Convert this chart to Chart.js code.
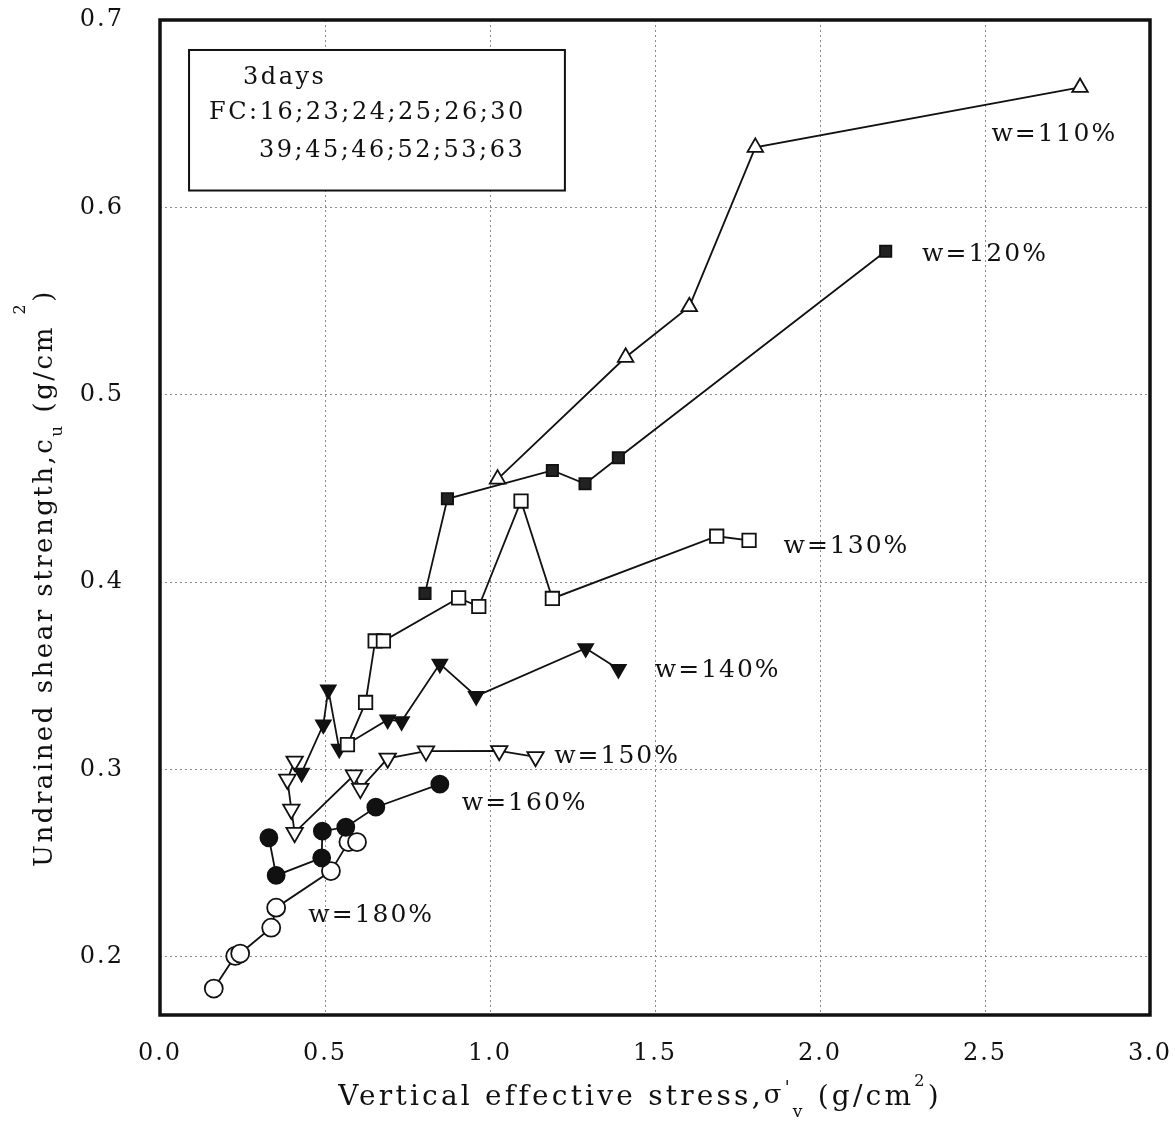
<!DOCTYPE html>
<html>
<head>
<meta charset="utf-8">
<script src="https://cdn.jsdelivr.net/npm/chart.js@4.4.0/dist/chart.umd.min.js"></script>
<style>
  html, body { margin: 0; padding: 0; background: #fff; }
</style>
</head>
<body>
<canvas id="chart" width="1175" height="1129"></canvas>
<script>
// values: vertical effective stress (x) vs undrained shear strength (y)
const w110x = [1.023, 1.411, 1.604, 1.804, 2.788];
const w110y = [0.455, 0.520, 0.547, 0.632, 0.664];

const w120x = [0.803, 0.871, 1.189, 1.288, 1.389, 2.199];
const w120y = [0.394, 0.4445, 0.4596, 0.4525, 0.4664, 0.5766];

const w130x = [0.568, 0.623, 0.652, 0.677, 0.905, 0.966, 1.094, 1.189, 1.687, 1.785];
const w130y = [0.3133, 0.3358, 0.3686, 0.3686, 0.3916, 0.387, 0.4433, 0.3913, 0.4245, 0.4223];

const w140x = [0.429, 0.495, 0.510, 0.543, 0.690, 0.732, 0.848, 0.958, 1.290, 1.389];
const w140y = [0.2982, 0.324, 0.3426, 0.311, 0.3266, 0.3257, 0.3564, 0.3392, 0.3647, 0.3536];

const w150x = [0.408, 0.386, 0.398, 0.408, 0.588, 0.607, 0.690, 0.806, 1.028, 1.138];
const w150y = [0.3044, 0.2947, 0.2787, 0.2663, 0.297, 0.2898, 0.306, 0.3098, 0.310, 0.3068];

const w160x = [0.330, 0.352, 0.490, 0.492, 0.563, 0.654, 0.848];
const w160y = [0.2636, 0.2435, 0.2529, 0.2671, 0.2692, 0.2799, 0.2922];

const w180x = [0.163, 0.228, 0.243, 0.337, 0.352, 0.518, 0.571, 0.597];
const w180y = [0.1831, 0.2005, 0.2018, 0.2156, 0.2263, 0.2458, 0.2613, 0.2613];

const seriesNames = ['w=110%', 'w=120%', 'w=130%', 'w=140%', 'w=150%', 'w=160%', 'w=180%'];
// where each series label sits, in data units
const labelX = [2.71, 2.50, 2.08, 1.69, 1.385, 1.105, 0.64];
const labelY = [0.639, 0.575, 0.419, 0.353, 0.307, 0.282, 0.222];

const xTicks = [0.0, 0.5, 1.0, 1.5, 2.0, 2.5, 3.0];
const yTicks = [0.2, 0.3, 0.4, 0.5, 0.6, 0.7];

const noteLines = ['3days', 'FC:16;23;24;25;26;30', '39;45;46;52;53;63'];

const FONT = '"DejaVu Serif", "Liberation Serif", serif';

function pts(xs, ys) {
  return xs.map((x, i) => ({ x: x, y: ys[i] }));
}

// marker look for each series
const styles = [
  { shape: 'triangle', rot: 0, fill: '#fff', r: 9 },
  { shape: 'rect', rot: 0, fill: '#222', r: 8 },
  { shape: 'rect', rot: 0, fill: '#fff', r: 9.5 },
  { shape: 'triangle', rot: 180, fill: '#111', r: 8.5 },
  { shape: 'triangle', rot: 180, fill: '#fff', r: 9.5 },
  { shape: 'circle', rot: 0, fill: '#111', r: 8.5 },
  { shape: 'circle', rot: 0, fill: '#fff', r: 9 }
];

const allX = [w110x, w120x, w130x, w140x, w150x, w160x, w180x];
const allY = [w110y, w120y, w130y, w140y, w150y, w160y, w180y];

const datasets = seriesNames.map((name, i) => ({
  label: name,
  data: pts(allX[i], allY[i]),
  showLine: true,
  borderColor: '#111',
  borderWidth: 1.8,
  pointStyle: styles[i].shape,
  rotation: styles[i].rot,
  pointRadius: styles[i].r,
  pointHoverRadius: styles[i].r,
  pointBackgroundColor: styles[i].fill,
  pointBorderColor: '#111',
  pointBorderWidth: 1.8
}));

// draw a string with pieces raised/lowered (for sub and superscripts)
function drawParts(ctx, parts, x, y) {
  let cx = x;
  parts.forEach(p => {
    ctx.font = p.size + 'px ' + FONT;
    ctx.fillText(p.t, cx, y + (p.dy || 0));
    cx += ctx.measureText(p.t).width;
  });
}
function partsWidth(ctx, parts) {
  let w = 0;
  parts.forEach(p => {
    ctx.font = p.size + 'px ' + FONT;
    w += ctx.measureText(p.t).width;
  });
  return w;
}

const textPlugin = {
  id: 'textPlugin',
  beforeDraw(chart) {
    chart.ctx.letterSpacing = '2px';
  },
  afterDraw(chart) {
    const ctx = chart.ctx;
    const a = chart.chartArea;
    const xs = chart.scales.x, ys = chart.scales.y;
    ctx.save();
    ctx.letterSpacing = '2px';
    ctx.fillStyle = '#111';
    ctx.textBaseline = 'middle';

    // frame
    ctx.strokeStyle = '#111';
    ctx.lineWidth = 3.5;
    ctx.strokeRect(a.left, a.top, a.right - a.left, a.bottom - a.top);

    // series labels
    ctx.textAlign = 'center';
    ctx.font = '25px ' + FONT;
    seriesNames.forEach((n, i) => {
      ctx.fillText(n, xs.getPixelForValue(labelX[i]), ys.getPixelForValue(labelY[i]));
    });

    // note box
    const bx0 = xs.getPixelForValue(0.088), bx1 = xs.getPixelForValue(1.227);
    const by0 = ys.getPixelForValue(0.684), by1 = ys.getPixelForValue(0.609);
    ctx.lineWidth = 2;
    ctx.fillStyle = '#fff';
    ctx.fillRect(bx0, by0, bx1 - bx0, by1 - by0);
    ctx.strokeRect(bx0, by0, bx1 - bx0, by1 - by0);
    ctx.fillStyle = '#111';
    ctx.textAlign = 'left';
    ctx.letterSpacing = '2.5px';
    ctx.font = '24px ' + FONT;
    ctx.fillText(noteLines[0], bx0 + 54, by0 + 28);
    ctx.fillText(noteLines[1], bx0 + 20, by0 + 63);
    ctx.fillText(noteLines[2], bx0 + 70, by0 + 101);

    // x axis title
    ctx.letterSpacing = '3.2px';
    const xt = [
      { t: 'Vertical effective stress,', size: 28 },
      { t: 'σ', size: 26, dy: -2 },
      { t: "'", size: 18, dy: -9 },
      { t: 'v', size: 17, dy: 15 },
      { t: ' (g/cm', size: 28 },
      { t: '2', size: 16, dy: -16 },
      { t: ')', size: 28 }
    ];
    const xw = partsWidth(ctx, xt);
    drawParts(ctx, xt, 640 - xw / 2, 1098);

    // y axis title, rotated
    ctx.letterSpacing = '2.5px';
    ctx.save();
    ctx.translate(45, 578);
    ctx.rotate(-Math.PI / 2);
    const yt = [
      { t: 'Undrained shear strength,c', size: 26 },
      { t: 'u', size: 17, dy: 13 },
      { t: ' (g/cm ', size: 26 },
      { t: '2', size: 16, dy: -24 },
      { t: ')', size: 26 }
    ];
    const yw = partsWidth(ctx, yt);
    drawParts(ctx, yt, -yw / 2, 0);
    ctx.restore();

    ctx.restore();
  }
};

// drop the automatic label overflow padding so the plot area is set by layout padding only
function noPad(s) {
  s.paddingTop = 0;
  s.paddingBottom = 0;
  s.paddingLeft = 0;
  s.paddingRight = 0;
}

new Chart(document.getElementById('chart'), {
  type: 'scatter',
  data: { datasets: datasets },
  options: {
    responsive: false,
    animation: false,
    layout: { padding: { left: 0, right: 25, top: 20, bottom: 0 } },
    plugins: {
      legend: { display: false },
      tooltip: { enabled: false }
    },
    scales: {
      x: {
        type: 'linear',
        min: 0,
        max: 3,
        afterFit: s => { s.height = 114; noPad(s); },
        afterBuildTicks: s => { s.ticks = xTicks.map(v => ({ value: v })); },
        border: { display: false, dash: [2, 3] },
        grid: { color: '#8a8a8a', lineWidth: 1, drawTicks: false },
        ticks: {
          padding: 24,
          color: '#111',
          font: { family: FONT, size: 24 },
          callback: v => Number(v).toFixed(1)
        }
      },
      y: {
        type: 'linear',
        min: 0.169,
        max: 0.7,
        afterFit: s => { s.width = 160; noPad(s); },
        afterBuildTicks: s => { s.ticks = yTicks.map(v => ({ value: v })); },
        border: { display: false, dash: [2, 3] },
        grid: { color: '#8a8a8a', lineWidth: 1, drawTicks: false },
        ticks: {
          padding: 36,
          color: '#111',
          font: { family: FONT, size: 24 },
          callback: v => Number(v).toFixed(1)
        }
      }
    }
  },
  plugins: [textPlugin]
});
</script>
</body>
</html>
